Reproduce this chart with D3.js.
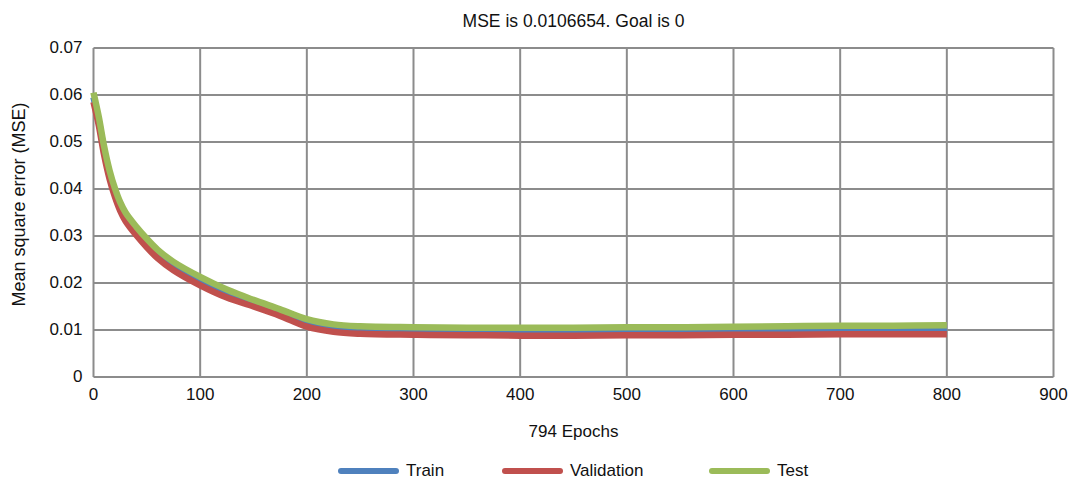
<!DOCTYPE html>
<html>
<head>
<meta charset="utf-8">
<script src="https://cdn.jsdelivr.net/npm/d3@7"></script>
<style>
  body { margin: 0; background: #fff; }
  svg text { font-family: "Liberation Sans", Arial, Helvetica, sans-serif; fill: #111; }
</style>
</head>
<body>
<svg id="chart" width="1069" height="478"></svg>
<script>
// epochs sampled along the curves
var epochs = [0, 5, 10, 15, 20, 25, 30, 40, 50, 60, 75, 100, 125, 150, 175, 200, 225, 250, 300, 350, 400, 450, 500, 550, 600, 650, 700, 750, 800];
var train = [0.0595, 0.0544, 0.0481, 0.0431, 0.0393, 0.0363, 0.0341, 0.0311, 0.0285, 0.0262, 0.0236, 0.0204, 0.0177, 0.0156, 0.0136, 0.0115, 0.0104, 0.0100, 0.0098, 0.0097, 0.0097, 0.0097, 0.0097, 0.0098, 0.0098, 0.0099, 0.0099, 0.0100, 0.0100];
var validation = [0.0585, 0.0535, 0.0472, 0.0422, 0.0384, 0.0354, 0.0332, 0.0302, 0.0276, 0.0253, 0.0227, 0.0195, 0.0169, 0.0150, 0.0130, 0.0107, 0.0096, 0.0092, 0.0090, 0.0089, 0.0088, 0.0088, 0.0089, 0.0089, 0.0090, 0.0090, 0.0091, 0.0091, 0.0091];
var test = [0.0605, 0.0553, 0.0490, 0.0440, 0.0402, 0.0372, 0.0350, 0.0320, 0.0294, 0.0271, 0.0245, 0.0213, 0.0186, 0.0164, 0.0144, 0.0123, 0.0112, 0.0108, 0.0106, 0.0105, 0.0105, 0.0105, 0.0106, 0.0106, 0.0107, 0.0108, 0.0109, 0.0109, 0.0110];

var xTicks = [0, 100, 200, 300, 400, 500, 600, 700, 800, 900];
var yTicks = [0, 0.01, 0.02, 0.03, 0.04, 0.05, 0.06, 0.07];

var seriesNames = ["Train", "Validation", "Test"];
var seriesColors = ["#4f81bd", "#c0504d", "#9bbb59"];
var seriesValues = [train, validation, test];

var svg = d3.select("#chart");
var plotLeft = 93.5, plotRight = 1053.5, plotTop = 48, plotBottom = 377;

var x = d3.scaleLinear().domain([0, 900]).range([plotLeft, plotRight]);
var y = d3.scaleLinear().domain([0, 0.07]).range([plotBottom, plotTop]);

// grid
var grid = svg.append("g");
grid.selectAll(".vg").data(xTicks).enter().append("line")
  .attr("x1", d => x(d)).attr("x2", d => x(d))
  .attr("y1", plotTop).attr("y2", plotBottom)
  .attr("stroke", "#8c8c8c").attr("stroke-width", 2);
grid.selectAll(".hg").data(yTicks).enter().append("line")
  .attr("x1", plotLeft).attr("x2", plotRight)
  .attr("y1", d => y(d)).attr("y2", d => y(d))
  .attr("stroke", "#8c8c8c").attr("stroke-width", 2);

// tick labels
svg.append("g").selectAll("text").data(yTicks).enter().append("text")
  .attr("x", plotLeft - 11).attr("y", d => y(d) + 5)
  .attr("text-anchor", "end").attr("font-size", 17)
  .text(d => d === 0 ? "0" : d.toFixed(2));
svg.append("g").selectAll("text").data(xTicks).enter().append("text")
  .attr("x", d => x(d)).attr("y", plotBottom + 23)
  .attr("text-anchor", "middle").attr("font-size", 17)
  .text(d => d);

// lines
var line = d3.line()
  .x((d, i) => x(epochs[i]))
  .y(d => y(d))
  .curve(d3.curveCatmullRom.alpha(0.5));

seriesValues.forEach(function (vals, i) {
  svg.append("path")
    .attr("d", line(vals))
    .attr("fill", "none")
    .attr("stroke", seriesColors[i])
    .attr("stroke-width", 6.5)
    .attr("stroke-linejoin", "round");
});

// titles
svg.append("text").attr("x", (plotLeft + plotRight) / 2).attr("y", 27)
  .attr("text-anchor", "middle").attr("font-size", 17.5)
  .text("MSE is 0.0106654. Goal is 0");
svg.append("text").attr("x", (plotLeft + plotRight) / 2).attr("y", 437)
  .attr("text-anchor", "middle").attr("font-size", 17)
  .text("794 Epochs");
svg.append("text")
  .attr("transform", "translate(25,204.5) rotate(-90)")
  .attr("text-anchor", "middle").attr("font-size", 18)
  .text("Mean square error (MSE)");

// legend
var legendX = [341, 505, 712];
var lg = svg.append("g").selectAll("g").data(seriesNames).enter().append("g")
  .attr("transform", (d, i) => "translate(" + legendX[i] + ",471)");
lg.append("line").attr("x1", 0).attr("x2", 55).attr("y1", 0).attr("y2", 0)
  .attr("stroke", (d, i) => seriesColors[i]).attr("stroke-width", 6)
  .attr("stroke-linecap", "round");
lg.append("text").attr("x", 65).attr("y", 4.5).attr("font-size", 17).text(d => d);
</script>
</body>
</html>
